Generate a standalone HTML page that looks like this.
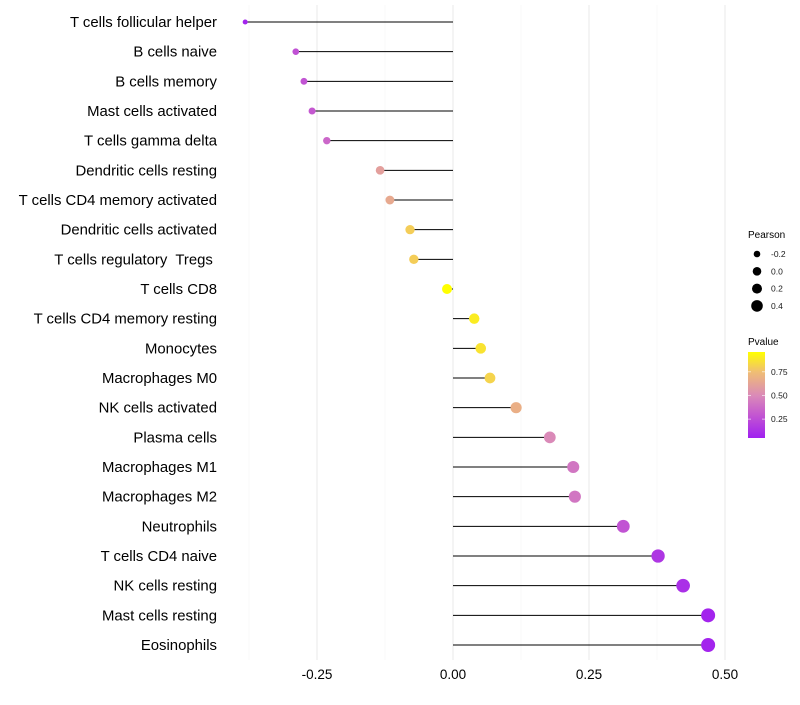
<!DOCTYPE html>
<html><head><meta charset="utf-8"><style>
body{margin:0;background:#fff;font-family:"Liberation Sans",sans-serif}
text{white-space:pre}
</style></head><body>
<svg id="chart" width="800" height="700" xmlns="http://www.w3.org/2000/svg">
<g id="grid"></g><g id="marks"></g><g id="labels"></g><g id="legend"></g>
</svg>
<script>
const categories=["T cells follicular helper","B cells naive","B cells memory","Mast cells activated","T cells gamma delta","Dendritic cells resting","T cells CD4 memory activated","Dendritic cells activated","T cells regulatory  Tregs ","T cells CD8","T cells CD4 memory resting","Monocytes","Macrophages M0","NK cells activated","Plasma cells","Macrophages M1","Macrophages M2","Neutrophils","T cells CD4 naive","NK cells resting","Mast cells resting","Eosinophils"];
const pearson=[-0.382,-0.289,-0.274,-0.259,-0.232,-0.134,-0.116,-0.079,-0.072,-0.011,0.039,0.051,0.068,0.116,0.178,0.221,0.224,0.313,0.377,0.423,0.469,0.469];
const pvalue=[0.07,0.27,0.28,0.3,0.36,0.6,0.65,0.8,0.8,0.97,0.9,0.87,0.82,0.68,0.5,0.42,0.42,0.28,0.15,0.12,0.07,0.07];
const xTicks=[-0.25,0,0.25,0.5];
const xTickLabels=["-0.25","0.00","0.25","0.50"];
const minorTicks=[-0.375,-0.125,0.125,0.375];
const sizeLegend=[-0.2,0.0,0.2,0.4];
const colorLegend=[0.25,0.5,0.75];

const NS="http://www.w3.org/2000/svg";
const X=v=>453+v*544;
const Y=i=>22+i*29.667;
const R=v=>Math.sqrt(Math.max(2.5,25.5+50*v));
const stops=[[0.05,[160,32,240]],[0.3,[196,88,208]],[0.5,[218,138,184]],[0.75,[240,190,115]],[0.96,[255,255,0]]];
function col(p){p=Math.max(0.05,Math.min(0.96,p));for(let k=0;k<stops.length-1;k++){const a=stops[k],b=stops[k+1];if(p<=b[0]){const t=(p-a[0])/(b[0]-a[0]);const c=a[1].map((x,j)=>Math.round(x+(b[1][j]-x)*t));return `rgb(${c})`;}}return "rgb(255,255,0)";}
function el(tag,attrs,parent,text){const e=document.createElementNS(NS,tag);for(const k in attrs)e.setAttribute(k,attrs[k]);if(text!==undefined)e.textContent=text;parent.appendChild(e);return e;}
const grid=document.getElementById('grid'),marks=document.getElementById('marks'),labels=document.getElementById('labels'),legend=document.getElementById('legend');
minorTicks.forEach(v=>{const l=el('line',{x1:X(v),x2:X(v),y1:5,y2:660,stroke:'#f4f4f4','stroke-width':0.6},grid);

});
xTicks.forEach((v,i)=>{const l=el('line',{x1:X(v),x2:X(v),y1:5,y2:660,stroke:'#ebebeb','stroke-width':1.1},grid);


const t=el('text',{x:X(v),y:679,'text-anchor':'middle','font-size':13.5,fill:'#000'},labels,xTickLabels[i]);

});
categories.forEach((c,i)=>{const y=Y(i);
const l=el('line',{x1:X(0),x2:X(pearson[i]),y1:y,y2:y,stroke:'#000','stroke-width':1},marks);


const p=el('circle',{cx:X(pearson[i]),cy:y,r:R(pearson[i]),fill:col(pvalue[i])},marks);


const t=el('text',{x:217,y:y+5,'text-anchor':'end','font-size':14.9,fill:'#000'},labels,c);

});
let t=el('text',{x:748,y:238,'font-size':10,fill:'#000'},legend,'Pearson');


sizeLegend.forEach((v,i)=>{const y=254+i*17.3;const r=[3.3,4.3,5,5.8][i];
const c=el('circle',{cx:757,cy:y,r:r,fill:'#000'},legend);


const tt=el('text',{x:771,y:y+3,'font-size':8.5,fill:'#1a1a1a'},legend,v.toFixed(1));

});
t=el('text',{x:748,y:345,'font-size':10,fill:'#000'},legend,'Pvalue');


const defs=el('defs',{},legend);const g=el('linearGradient',{id:'pg',x1:0,y1:1,x2:0,y2:0},defs);
stops.forEach(s=>el('stop',{offset:(s[0]-0.05)/0.91,'stop-color':`rgb(${s[1]})`},g));
const bar=el('rect',{x:748,y:352,width:17,height:86,fill:'url(#pg)'},legend);


colorLegend.forEach(v=>{const y=438-(v-0.05)/0.91*86;
el('line',{x1:748,x2:751,y1:y,y2:y,stroke:'#fff','stroke-width':0.6},legend);
el('line',{x1:762,x2:765,y1:y,y2:y,stroke:'#fff','stroke-width':0.6},legend);
const tt=el('text',{x:771,y:y+3,'font-size':8.5,fill:'#1a1a1a'},legend,v.toFixed(2));

});
</script>
</body></html>
